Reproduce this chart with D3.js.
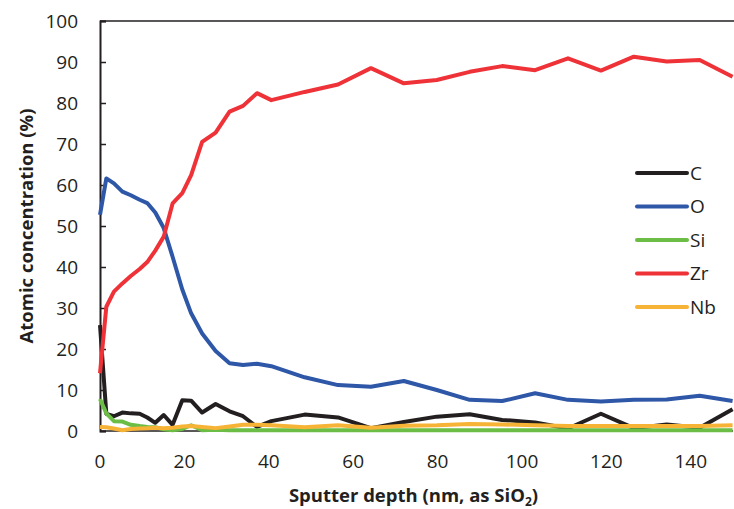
<!DOCTYPE html>
<html>
<head>
<meta charset="utf-8">
<script src="https://cdn.jsdelivr.net/npm/d3@7"></script>
<style>
  body { margin: 0; background: #fff; }
  text { font-family: "Open Sans", "Noto Sans", sans-serif; fill: #231f20; }
</style>
</head>
<body>
<script>
// sputter depth (nm, as SiO2)
var depth = [0, 1.5, 3.3, 5.3, 7.3, 9.4, 11.2, 13.1, 15.1, 17.2, 19.5, 21.6, 24.2, 27.4, 30.7, 33.9,
             37.2, 40.6, 48.5, 56.4, 64.2, 72.0, 79.8, 87.6, 95.3, 103.1, 110.9, 118.7, 126.5, 134.3, 142.1, 149.9];

var cVals  = [25.8, 4.2, 3.6, 4.5, 4.3, 4.2, 3.3, 2.0, 3.9, 1.5, 7.5, 7.4, 4.5, 6.6, 4.8, 3.6,
              1.0, 2.4, 4.0, 3.3, 0.7, 2.2, 3.5, 4.1, 2.7, 2.1, 0.6, 4.2, 0.7, 1.6, 0.8, 5.3];
var oVals  = [52.7, 61.6, 60.4, 58.4, 57.5, 56.4, 55.6, 53.3, 49.5, 42.5, 34.5, 28.7, 23.8, 19.5, 16.5, 16.1,
              16.4, 15.8, 13.1, 11.2, 10.8, 12.2, 10.0, 7.6, 7.3, 9.2, 7.6, 7.2, 7.6, 7.7, 8.6, 7.3];
var siVals = [7.8, 4.3, 2.4, 2.3, 1.5, 1.2, 1.0, 0.9, 0.4, 0.2, 0.5, 1.4, 0.2, 0.3, 0.2, 0.2,
              0.2, 0.2, 0.2, 0.2, 0.2, 0.2, 0.2, 0.2, 0.2, 0.2, 0.2, 0.2, 0.2, 0.2, 0.2, 0.2];
var zrVals = [14.1, 30.3, 34.0, 36.0, 37.8, 39.5, 41.2, 44.0, 47.4, 55.5, 58.0, 62.4, 70.5, 72.8, 77.9, 79.3,
              82.4, 80.7, 82.7, 84.5, 88.5, 84.8, 85.6, 87.6, 89.0, 88.0, 90.9, 87.9, 91.3, 90.1, 90.5, 86.4];
var nbVals = [1.0, 0.9, 0.6, 0.2, 0.5, 0.6, 0.7, 0.8, 0.7, 0.8, 1.1, 1.2, 1.0, 0.7, 1.1, 1.5,
              1.5, 1.4, 0.9, 1.4, 0.8, 1.3, 1.4, 1.7, 1.6, 1.4, 1.2, 1.2, 1.2, 1.2, 1.2, 1.4];

var elements = ["C", "O", "Si", "Zr", "Nb"];
var colors = ["#231f20", "#2e57a7", "#6cbd45", "#ee3237", "#f6b335"];
var seriesVals = [cVals, oVals, siVals, zrVals, nbVals];

var yTicks = [0, 10, 20, 30, 40, 50, 60, 70, 80, 90, 100];
var xTicks = [0, 20, 40, 60, 80, 100, 120, 140];

var width = 734, height = 509;
var plot = { left: 100, right: 733, top: 21, bottom: 431 };

var svg = d3.select("body").append("svg")
    .attr("width", width)
    .attr("height", height);

var x = d3.scaleLinear().domain([0, 150]).range([plot.left, plot.right]);
var y = d3.scaleLinear().domain([0, 100]).range([plot.bottom, plot.top]);

// top border
svg.append("line")
    .attr("x1", plot.left).attr("x2", width)
    .attr("y1", plot.top).attr("y2", plot.top)
    .attr("stroke", "#231f20").attr("stroke-width", 1.5);

// bottom axis line
svg.append("line")
    .attr("x1", plot.left).attr("x2", plot.right)
    .attr("y1", plot.bottom).attr("y2", plot.bottom)
    .attr("stroke", "#231f20").attr("stroke-width", 1.5);

// y axis, ticks pointing inward
var yAxis = d3.axisRight(y).tickValues(yTicks).tickSize(6).tickFormat("");
var gy = svg.append("g")
    .attr("transform", "translate(" + plot.left + ",0)")
    .call(yAxis);
gy.select(".domain").attr("stroke", "#231f20").attr("stroke-width", 2);
gy.selectAll(".tick line").attr("stroke", "#231f20").attr("stroke-width", 1.5);

svg.append("g").selectAll("text")
    .data(yTicks)
    .enter().append("text")
    .attr("x", 78)
    .attr("y", function(d) { return y(d); })
    .attr("dy", "0.35em")
    .attr("text-anchor", "end")
    .style("font-size", "19px")
    .text(function(d) { return d; });

svg.append("g").selectAll("text")
    .data(xTicks)
    .enter().append("text")
    .attr("x", function(d) { return x(d); })
    .attr("y", 468)
    .attr("text-anchor", "middle")
    .style("font-size", "19px")
    .text(function(d) { return d; });

// series
var line = d3.line()
    .x(function(d) { return x(d[0]); })
    .y(function(d) { return y(d[1]); });

seriesVals.forEach(function(vals, i) {
    svg.append("path")
        .datum(depth.map(function(dd, j) { return [dd, vals[j]]; }))
        .attr("fill", "none")
        .attr("stroke", colors[i])
        .attr("stroke-width", 4)
        .attr("stroke-linejoin", "round")
        .attr("d", line);
});

// legend
var legend = svg.append("g").selectAll("g")
    .data(elements)
    .enter().append("g")
    .attr("transform", function(d, i) { return "translate(637," + (173 + i * 33.5) + ")"; });

legend.append("line")
    .attr("x1", 0).attr("x2", 50)
    .attr("stroke", function(d, i) { return colors[i]; })
    .attr("stroke-width", 4)
    .attr("stroke-linecap", "round");

legend.append("text")
    .attr("x", 53)
    .attr("dy", "0.35em")
    .style("font-size", "19px")
    .text(function(d) { return d; });

// axis titles
svg.append("text")
    .attr("transform", "translate(27," + ((plot.top + plot.bottom) / 2) + ") rotate(-90)")
    .attr("dy", "0.35em")
    .attr("text-anchor", "middle")
    .style("font-size", "18.5px")
    .style("font-weight", "bold")
    .text("Atomic concentration (%)");

var xt = svg.append("text")
    .attr("x", (plot.left + plot.right) / 2 - 3)
    .attr("y", 502)
    .attr("text-anchor", "middle")
    .style("font-size", "18.5px")
    .style("font-weight", "bold");
xt.append("tspan").text("Sputter depth (nm, as SiO");
xt.append("tspan").attr("dy", 4).style("font-size", "12px").text("2");
xt.append("tspan").attr("dy", -4).text(")");
</script>
</body>
</html>
